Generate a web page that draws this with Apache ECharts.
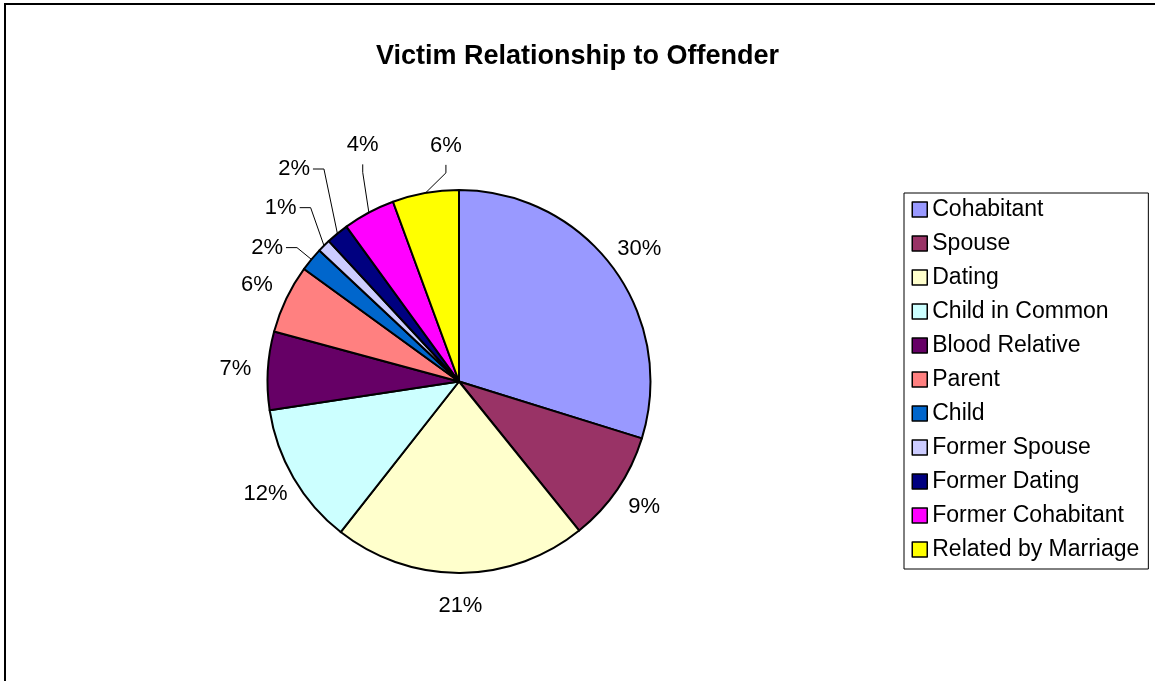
<!DOCTYPE html>
<html>
<head>
<meta charset="utf-8">
<title>Victim Relationship to Offender</title>
<script src="https://cdn.jsdelivr.net/npm/echarts@6/dist/echarts.min.js"></script>
<style>
  html, body { margin: 0; padding: 0; background: #fff; }
  #main { width: 1155px; height: 681px; }
</style>
</head>
<body>
<div id="main"></div>
<script>
// relationship categories, in the order Excel draws them (clockwise from 12 o'clock)
var categories = ['Cohabitant', 'Spouse', 'Dating', 'Child in Common', 'Blood Relative',
                  'Parent', 'Child', 'Former Spouse', 'Former Dating', 'Former Cohabitant',
                  'Related by Marriage'];
// share of victims (percent)
var shares = [29.8, 9.4, 21.4, 12.0, 6.6, 5.8, 2.0, 1.1, 1.9, 4.4, 5.6];
// excel 2003 default fill colours
var colors = ['#9999FF', '#993366', '#FFFFCC', '#CCFFFF', '#660066', '#FF8080',
              '#0066CC', '#CCCCFF', '#000080', '#FF00FF', '#FFFF00'];

var font = "'Liberation Sans', Arial, sans-serif";
var pieCenter = [459, 381.5];
var pieRadius = 191.5;

// leader-line labels for the thin slices: angle shift (deg, clockwise) and distance
// of the label centre from the pie centre, and on which side the line meets the label
var leaderStyle = {
    6:  { shift: -4.7, dist: 234, side: 'right' },
    7:  { shift: -0.9, dist: 249, side: 'right' },
    8:  { shift: 1.6,  dist: 269, side: 'right' },
    9:  { shift: 5.9,  dist: 255, side: 'bottom' },
    10: { shift: 6.9,  dist: 236, side: 'bottom' }
};

var myChart = echarts.init(document.getElementById('main'));

function pct(p) {
    return Math.round(p.percent) + '%';
}

var mainData = categories.map(function (name, i) {
    var lead = !!leaderStyle[i];
    return {
        name: name,
        value: shares[i],
        itemStyle: { color: colors[i] },
        label: { show: lead },
        labelLine: { show: lead }
    };
});

var ringData = categories.map(function (name, i) {
    return {
        name: name,
        value: shares[i],
        label: { show: !leaderStyle[i] }
    };
});

// place a thin-slice label beside its slice and route the leader line like Excel
function leaderLayout(params) {
    var st = leaderStyle[params.dataIndex];
    if (!st || !params.labelLinePoints) {
        return {};
    }
    var p0 = params.labelLinePoints[0];
    var dx = p0[0] - pieCenter[0];
    var dy = p0[1] - pieCenter[1];
    var len = Math.sqrt(dx * dx + dy * dy);
    var ux = dx / len, uy = dy / len;
    var a = st.shift * Math.PI / 180;
    var rx = ux * Math.cos(a) - uy * Math.sin(a);
    var ry = ux * Math.sin(a) + uy * Math.cos(a);
    var cx = pieCenter[0] + rx * st.dist;
    var cy = pieCenter[1] + ry * st.dist;
    var w = params.labelRect.width, h = params.labelRect.height;
    var anchor, knee;
    if (st.side === 'right') {
        anchor = [cx + w / 2 + 3, cy];
        knee = [anchor[0] + 11, cy];
    } else {
        anchor = [cx, cy + h / 2 + 8];
        knee = [cx, anchor[1] + 8];
    }
    return {
        x: cx,
        y: cy,
        align: 'center',
        verticalAlign: 'middle',
        labelLinePoints: [p0, knee, anchor]
    };
}

option = {
    backgroundColor: '#fff',
    animation: false,
    color: colors,
    title: {
        left: 'center',
        top: 38,
        text: 'Victim Relationship to Offender',
        textStyle: {
            fontFamily: font,
            fontSize: 27,
            fontWeight: 'bold',
            color: '#000'
        }
    },
    legend: {
        orient: 'vertical',
        left: 904,
        top: 193,
        padding: [5, 9, 8, 7.5],
        itemGap: 11,
        itemWidth: 15,
        itemHeight: 15,
        icon: 'rect',
        borderColor: '#000',
        borderWidth: 1,
        data: categories,
        selectedMode: false,
        itemStyle: {
            borderColor: '#000',
            borderWidth: 1.5
        },
        textStyle: {
            fontFamily: font,
            fontSize: 23,
            lineHeight: 23,
            color: '#000'
        }
    },
    graphic: [{
        type: 'rect',
        shape: { x: 5, y: 4, width: 1200, height: 720 },
        style: { fill: 'none', stroke: '#000', lineWidth: 2 },
        silent: true
    }],
    series: [
        {
            name: 'Relationship',
            type: 'pie',
            center: pieCenter,
            radius: pieRadius,
            startAngle: 90,
            clockwise: true,
            avoidLabelOverlap: false,
            emphasis: { disabled: true },
            itemStyle: {
                borderColor: '#000',
                borderWidth: 2
            },
            label: {
                position: 'outside',
                formatter: pct,
                fontFamily: font,
                fontSize: 22,
                color: '#000'
            },
            labelLine: {
                length: 12,
                length2: 10,
                smooth: false,
                lineStyle: { color: '#000', width: 1 }
            },
            labelLayout: leaderLayout,
            data: mainData
        },
        {
            // invisible ring that only carries the labels of the big slices
            name: 'Labels',
            type: 'pie',
            center: pieCenter,
            radius: [207, 235],
            startAngle: 90,
            clockwise: true,
            silent: true,
            emphasis: { disabled: true },
            itemStyle: { color: 'rgba(0,0,0,0)', borderWidth: 0 },
            label: {
                position: 'inside',
                formatter: pct,
                fontFamily: font,
                fontSize: 22,
                color: '#000'
            },
            labelLine: { show: false },
            data: ringData
        }
    ]
};
myChart.setOption(option);
window.onresize = myChart.resize;
</script>
</body>
</html>
